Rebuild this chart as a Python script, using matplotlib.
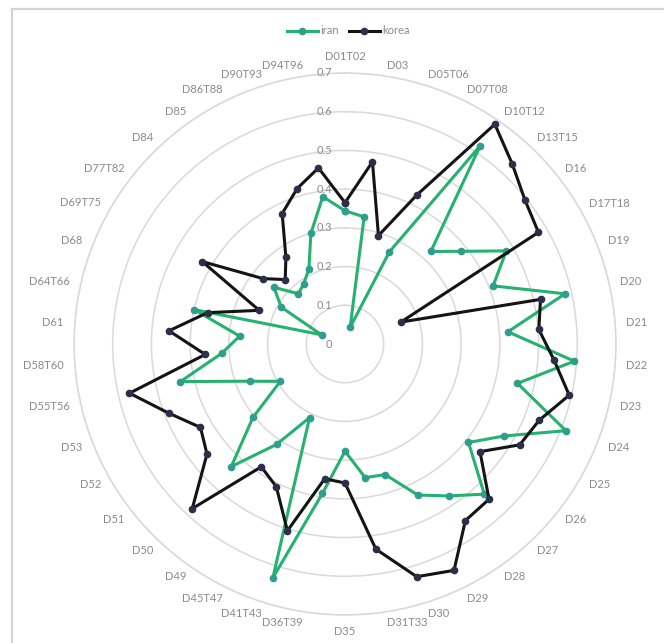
import matplotlib
matplotlib.use('Agg')
import matplotlib.pyplot as plt
from matplotlib.lines import Line2D
import numpy as np

plt.rcParams['font.family'] = ['Lato', 'DejaVu Sans']

categories = ['D01T02', 'D03', 'D05T06', 'D07T08', 'D10T12', 'D13T15', 'D16', 'D17T18',
              'D19', 'D20', 'D21', 'D22', 'D23', 'D24', 'D25', 'D26', 'D27', 'D28',
              'D29', 'D30', 'D31T33', 'D35', 'D36T39', 'D41T43', 'D45T47', 'D49',
              'D50', 'D51', 'D52', 'D53', 'D55T56', 'D58T60', 'D61', 'D64T66', 'D68',
              'D69T75', 'D77T82', 'D84', 'D85', 'D86T88', 'D90T93', 'D94T96']

iran = [0.344, 0.332, 0.045, 0.264, 0.620, 0.326, 0.384, 0.481, 0.411, 0.583,
        0.422, 0.594, 0.457, 0.613, 0.475, 0.408, 0.529, 0.475, 0.433, 0.353,
        0.349, 0.277, 0.390, 0.632, 0.211, 0.314, 0.432, 0.304, 0.193, 0.263,
        0.436, 0.319, 0.273, 0.400, 0.065, 0.190, 0.235, 0.177, 0.189, 0.215,
        0.299, 0.385]

korea = [0.365, 0.476, 0.293, 0.427, 0.687, 0.635, 0.595, 0.577, 0.155, 0.518,
         0.502, 0.541, 0.594, 0.539, 0.521, 0.446, 0.547, 0.552, 0.649, 0.629,
         0.536, 0.359, 0.352, 0.505, 0.409, 0.384, 0.580, 0.456, 0.431, 0.489,
         0.571, 0.362, 0.456, 0.364, 0.238, 0.426, 0.271, 0.227, 0.271, 0.374,
         0.420, 0.460]

rings = [0, 0.1, 0.2, 0.3, 0.4, 0.5, 0.6, 0.7]
ring_labels = ['0', '0.1', '0.2', '0.3', '0.4', '0.5', '0.6', '0.7']

W, H = 664, 643
fig = plt.figure(figsize=(W / 100, H / 100), dpi=100)
cx, cy, R = 345, 344, 271
ax = fig.add_axes([(cx - R) / W, (H - cy - R) / H, 2 * R / W, 2 * R / H], projection='polar')
ax.set_theta_zero_location('N')
ax.set_theta_direction(-1)
ax.set_ylim(0, 0.7)

n = len(categories)
theta = np.linspace(0, 2 * np.pi, n, endpoint=False)
th = np.append(theta, theta[0])

grid_c = '#d9d9d9'
ax.set_yticks(rings[1:])
ax.set_yticklabels([])
ax.yaxis.grid(True, color=grid_c, lw=1.1)
ax.set_xticks([])
ax.xaxis.grid(False)
ax.spines['polar'].set_color(grid_c)
ax.spines['polar'].set_linewidth(1.1)

lab_c = '#8a8a8a'
for r, s in zip(rings, ring_labels):
    ax.annotate(s, xy=(0, r), xytext=(-13, 0), textcoords='offset pixels',
                ha='right', va='center', fontsize=8, color=lab_c, annotation_clip=False)

gap = 11
for t, s in zip(theta, categories):
    sn, cs = np.sin(t), np.cos(t)
    if abs(sn) < 1e-6:
        ha = 'center'
        va = 'bottom' if cs > 0 else 'top'
    else:
        ha = 'left' if sn > 0 else 'right'
        va = 'center'
    ax.annotate(s, xy=(t, 0.7), xytext=(gap * sn, gap * cs), textcoords='offset pixels',
                ha=ha, va=va, fontsize=8, color=lab_c, annotation_clip=False)

ax.plot(th, np.append(iran, iran[0]), color='#25b16f', lw=2.2, marker='o', ms=4.5,
        mfc='#2f9e8c', mec='#2f9e8c', label='iran', zorder=3)
ax.plot(th, np.append(korea, korea[0]), color='#141414', lw=2.2, marker='o', ms=4.5,
        mfc='#2c2f48', mec='#2c2f48', label='korea', zorder=4)

fig.legend(loc='center', bbox_to_anchor=(348 / W, 1 - 31 / H), ncol=2, frameon=False,
           fontsize=8, labelcolor=lab_c, handlelength=2.8, handletextpad=0.2,
           columnspacing=0.9)

# light frame edge (top and left) of the original screenshot
fig.add_artist(Line2D([12 / W, 12 / W], [0, 1 - 9 / H], color='#d4d4d4', lw=1.6,
                      transform=fig.transFigure))
fig.add_artist(Line2D([12 / W, 1], [1 - 9 / H, 1 - 9 / H], color='#d4d4d4', lw=1.6,
                      transform=fig.transFigure))

fig.savefig('out.png', dpi=100)
